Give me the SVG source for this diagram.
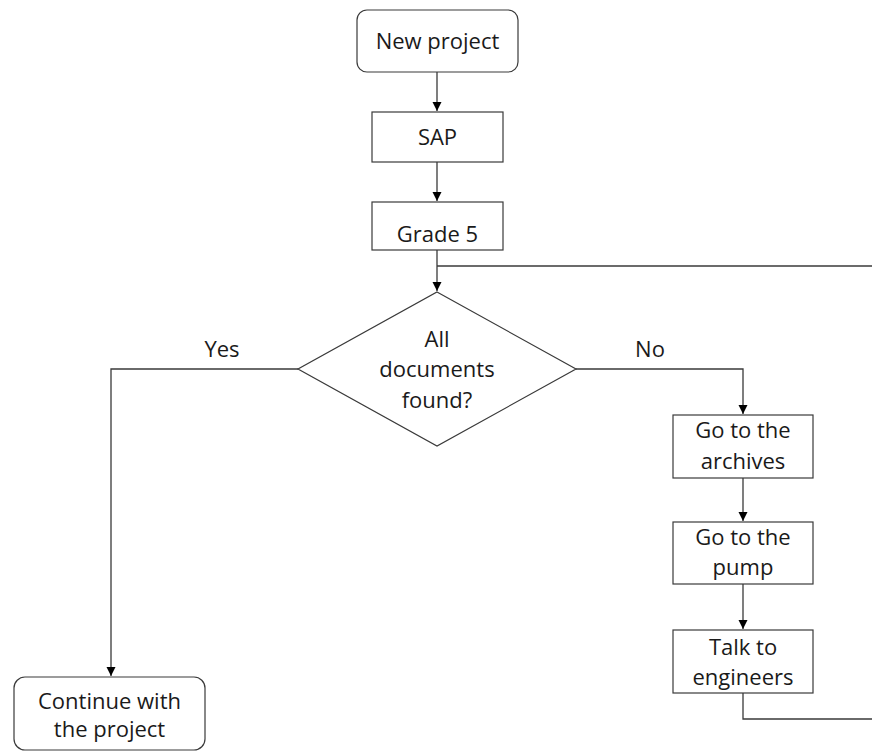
<svg xmlns="http://www.w3.org/2000/svg" width="872" height="751" viewBox="0 0 872 751">
<defs>
<marker id="arr" markerUnits="userSpaceOnUse" markerWidth="10" markerHeight="10" refX="9" refY="5" orient="auto">
<path d="M0,0.5 L9,5 L0,9.5 Z" fill="#000"/>
</marker>
<style>
.n{fill:#fff;stroke:#3a3a3a;stroke-width:1.2}
.t{font-family:"Open Sans","Liberation Sans",sans-serif;font-size:22px;fill:#1a1a1a;text-anchor:middle}
.c{fill:none;stroke:#3a3a3a;stroke-width:1.3}
</style>
</defs>
<rect width="872" height="751" fill="#fff"/>
<g id="connectors">
<path class="c" d="M437,72 V111" marker-end="url(#arr)"/>
<path class="c" d="M437,162 V201" marker-end="url(#arr)"/>
<path class="c" d="M437,250 V291" marker-end="url(#arr)"/>
<path class="c" d="M437,266 H872"/>
<path class="c" d="M298,369 H111 V676" marker-end="url(#arr)"/>
<path class="c" d="M576,369 H743 V414" marker-end="url(#arr)"/>
<path class="c" d="M743,478 V521" marker-end="url(#arr)"/>
<path class="c" d="M743,584 V629" marker-end="url(#arr)"/>
<path class="c" d="M743,693 V719 H872"/>
<text class="t" x="222" y="357">Yes</text>
<text class="t" x="650" y="357">No</text>
</g>
<g id="new-project">
<rect class="n" x="357" y="10" width="161" height="62" rx="10"/>
<text class="t" x="437.5" y="49">New project</text>
</g>
<g id="sap">
<rect class="n" x="372" y="112" width="131" height="50"/>
<text class="t" x="437.5" y="145">SAP</text>
</g>
<g id="grade5">
<rect class="n" x="372" y="202" width="131" height="48"/>
<text class="t" x="437.5" y="242">Grade 5</text>
</g>
<g id="decision">
<polygon class="n" points="437,292 576,369 437,446 298,369"/>
<text class="t" x="437" y="347">All</text>
<text class="t" x="437" y="377">documents</text>
<text class="t" x="437" y="408">found?</text>
</g>
<g id="archives">
<rect class="n" x="673" y="415" width="140" height="63"/>
<text class="t" x="743" y="438">Go to the</text>
<text class="t" x="743" y="469">archives</text>
</g>
<g id="pump">
<rect class="n" x="673" y="522" width="140" height="62"/>
<text class="t" x="743" y="545">Go to the</text>
<text class="t" x="743" y="575">pump</text>
</g>
<g id="engineers">
<rect class="n" x="673" y="630" width="140" height="63"/>
<text class="t" x="743" y="655">Talk to</text>
<text class="t" x="743" y="685">engineers</text>
</g>
<g id="continue">
<rect class="n" x="14" y="677" width="191" height="73" rx="11"/>
<text class="t" x="109.5" y="709">Continue with</text>
<text class="t" x="109.5" y="737">the project</text>
</g>
</svg>
